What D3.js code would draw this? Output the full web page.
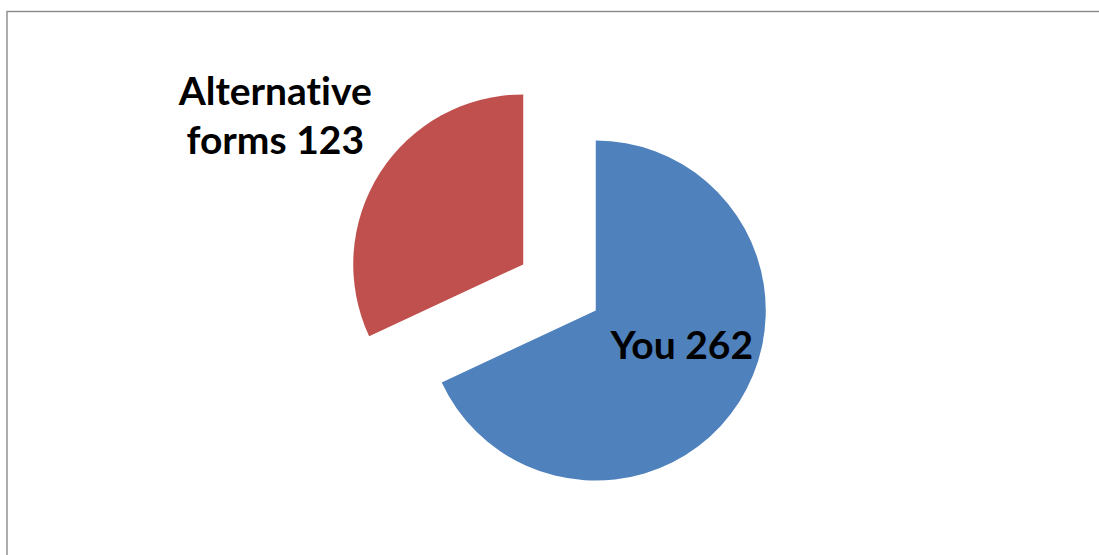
<!DOCTYPE html>
<html>
<head>
<meta charset="utf-8">
<script src="https://cdn.jsdelivr.net/npm/d3@7"></script>
<style>
  html, body { margin: 0; padding: 0; background: #fff; }
  svg { display: block; }
  .lbl { font-family: Lato, "Open Sans", sans-serif; font-weight: 700; fill: #000;
         font-variant-ligatures: none; font-feature-settings: "liga" 0, "clig" 0; }
</style>
</head>
<body>
<svg id="chart" width="1099" height="555"></svg>
<script>
// Slice data
const categories = ["You", "Alternative forms"];
const values = [262, 123];
const colors = ["#4F81BD", "#C0504D"];

const W = 1099, H = 555;
const svg = d3.select("#chart");

// Chart area border (continues off the right and bottom edges)
svg.append("rect")
  .attr("x", 7).attr("y", 11.5)
  .attr("width", W + 20).attr("height", H + 20)
  .attr("fill", "none")
  .attr("stroke", "#8a8a8a")
  .attr("stroke-width", 1.4);

const cx = 559.5, cy = 287.5;
const radius = 170;
const explode = 43;

const pie = d3.pie().sort(null).value(d => d.value).startAngle(0).endAngle(2 * Math.PI);
const arcs = pie(categories.map((c, i) => ({ name: c, value: values[i], color: colors[i] })));
const arc = d3.arc().innerRadius(0).outerRadius(radius);

const g = svg.append("g").attr("transform", `translate(${cx},${cy})`);

arcs.forEach(a => {
  const mid = (a.startAngle + a.endAngle) / 2;
  a.dx = explode * Math.sin(mid);
  a.dy = -explode * Math.cos(mid);
});

g.selectAll("path.slice")
  .data(arcs)
  .join("path")
  .attr("class", "slice")
  .attr("transform", d => `translate(${d.dx},${d.dy})`)
  .attr("d", arc)
  .attr("fill", d => d.data.color);

// Data labels: "You" inside its slice, "Alternative forms" outside to the upper left
const fontSize = 39;
const labelSpecs = [
  { lines: [`${arcs[0].data.name} ${arcs[0].data.value}`], ox: 86, oy: 48 },
  { lines: ["Alternative", `forms ${arcs[1].data.value}`], ox: -248, oy: -159 }
];

labelSpecs.forEach((spec, i) => {
  const a = arcs[i];
  const t = g.append("text")
    .attr("class", "lbl")
    .attr("text-anchor", "middle")
    .attr("font-size", fontSize)
    .attr("transform", `translate(${a.dx + spec.ox},${a.dy + spec.oy})`);
  spec.lines.forEach((ln, j) => {
    t.append("tspan").attr("x", 0).attr("y", j * 49).text(ln);
  });
});
</script>
</body>
</html>
